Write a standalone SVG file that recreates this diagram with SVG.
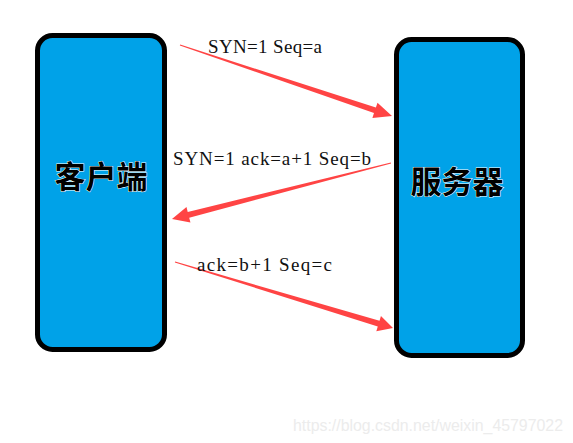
<svg xmlns="http://www.w3.org/2000/svg" width="573" height="443" viewBox="0 0 573 443">
  <style>
    .box { fill: #00a2e8; stroke: #000; stroke-width: 5; }
    .title { font-family: "Noto Sans CJK SC", "Noto Sans", sans-serif; font-weight: bold; font-size: 31px; fill: #000; stroke: #fff; stroke-width: 1; paint-order: stroke; text-anchor: middle; }
    .lbl { font-family: "Liberation Serif", serif; font-size: 19px; fill: #111; }
    .arrow { fill: #ff4444; }
    .wm { font-family: "Liberation Sans", sans-serif; font-size: 16px; fill: #ececec; }
  </style>
  <rect width="573" height="443" fill="#fff"/>
  <g id="client">
    <rect class="box" x="37.5" y="35.5" width="127" height="314" rx="15"/>
    <text class="title" x="101" y="188">客户端</text>
  </g>
  <g id="server">
    <rect class="box" x="396.5" y="39.5" width="126" height="316" rx="15"/>
    <text class="title" x="457" y="193">服务器</text>
  </g>
  <g id="connectors">
    <polygon class="arrow" points="180.16,44.53 375.89,107.44 377.5,102.7 392,116 372.4,117.9 373.99,113.12 179.84,45.47"/>
    <polygon class="arrow" points="390.88,162.52 187.73,211.88 186.49,207.04 172,219 190.45,222.54 189.21,217.70 391.12,163.48"/>
    <polygon class="arrow" points="175.14,261.52 379.51,320.78 380.96,315.99 393,328 376.32,331.31 377.77,326.52 174.86,262.48"/>
    <text class="lbl" x="208" y="53" textLength="114" lengthAdjust="spacing">SYN=1 Seq=a</text>
    <text class="lbl" x="173" y="165" textLength="198" lengthAdjust="spacing">SYN=1 ack=a+1 Seq=b</text>
    <text class="lbl" x="197" y="271" textLength="135" lengthAdjust="spacing">ack=b+1 Seq=c</text>
  </g>
  <text class="wm" x="293" y="431" textLength="270" lengthAdjust="spacingAndGlyphs">https://blog.csdn.net/weixin_45797022</text>
</svg>
